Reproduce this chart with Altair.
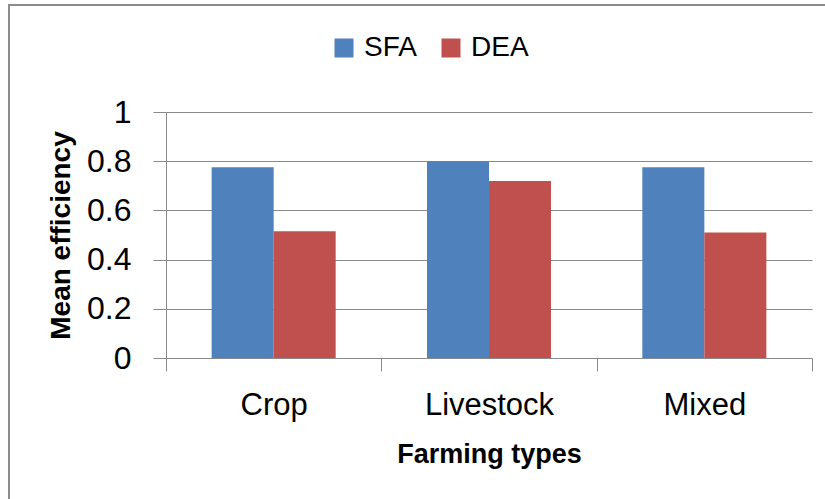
import altair as alt
import pandas as pd

# Mean efficiency by farming type, two estimation methods
farming_types = ["Crop", "Livestock", "Mixed"]
sfa_values = [0.775, 0.80, 0.775]
dea_values = [0.515, 0.72, 0.51]
methods = ["SFA", "DEA"]
method_colors = ["#4F81BD", "#C0504D"]
y_ticks = [0, 0.2, 0.4, 0.6, 0.8, 1]

rows = []
for t, s, d in zip(farming_types, sfa_values, dea_values):
    rows.append({"type": t, "method": "SFA", "value": s})
    rows.append({"type": t, "method": "DEA", "value": d})
df = pd.DataFrame(rows)

FONT = "Liberation Sans"
GRID = "#8a8a8a"

bars = alt.Chart(df).mark_bar().encode(
    x=alt.X(
        "type:N",
        sort=farming_types,
        scale=alt.Scale(paddingInner=0, paddingOuter=0),
        axis=alt.Axis(
            title="Farming types",
            labelAngle=0,
            labelFontSize=31,
            labelFont=FONT,
            labelColor="#000000",
            labelPadding=19,
            titleFontSize=27,
            titleFont=FONT,
            titleFontWeight="bold",
            titleColor="#000000",
            titlePadding=21,
            tickBand="extent",
            tickSize=13,
            tickColor=GRID,
            domainColor=GRID,
            domainWidth=1,
            grid=False,
        ),
    ),
    xOffset=alt.XOffset("method:N", sort=methods,
                        scale=alt.Scale(paddingInner=0, paddingOuter=0.736)),
    y=alt.Y(
        "value:Q",
        scale=alt.Scale(domain=[0, 1], nice=False),
        axis=alt.Axis(
            title="Mean efficiency",
            values=y_ticks,
            format="~g",
            labelFontSize=32,
            labelFont=FONT,
            labelColor="#000000",
            labelPadding=22,
            titleFontSize=28,
            titleFont=FONT,
            titleFontWeight="bold",
            titleColor="#000000",
            titlePadding=11,
            tickSize=13,
            tickColor=GRID,
            domainColor=GRID,
            grid=True,
            gridColor=GRID,
            gridWidth=1,
            gridOpacity=1,
        ),
    ),
    color=alt.Color(
        "method:N",
        sort=methods,
        scale=alt.Scale(domain=methods, range=method_colors),
        legend=alt.Legend(
            title=None,
            orient="none",
            direction="horizontal",
            legendX=164,
            legendY=-78,
            padding=0,
            symbolType="square",
            symbolSize=361,
            symbolStrokeWidth=0,
            labelFontSize=28,
            labelFont=FONT,
            labelColor="#000000",
            labelOffset=6,
            columnPadding=20,
        ),
    ),
)

# Outer chart frame
frame = alt.Chart(pd.DataFrame({"f": [0]})).mark_rect(
    fill=None, stroke="#8c8c8c", strokeWidth=2
).encode(
    x=alt.value(-157), x2=alt.value(700),
    y=alt.value(-107), y2=alt.value(420),
)

chart = alt.layer(frame, bars).properties(
    width=646,
    height=246,
    autosize=alt.AutoSizeParams(type="none"),
    padding={"left": 166, "top": 112, "right": 13, "bottom": 141},
    background="white",
).configure_view(stroke=None)

chart.save("out.html", embed_options={"renderer": "svg", "actions": False})
